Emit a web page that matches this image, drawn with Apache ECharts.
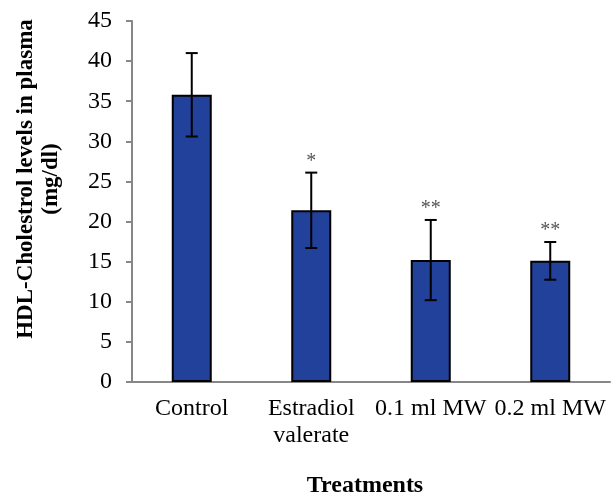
<!DOCTYPE html>
<html>
<head>
<meta charset="utf-8">
<script src="https://cdn.jsdelivr.net/npm/echarts@6/dist/echarts.min.js"></script>
<style>
html,body{margin:0;padding:0;background:#fff;}
#chart{width:616px;height:498px;}
</style>
</head>
<body>
<div id="chart"></div>
<script>
const categories = ['Control', 'Estradiol\nvalerate', '0.1 ml MW', '0.2 ml MW'];
const means = [35.8, 21.4, 15.2, 15.1];
const errors = [5.2, 4.7, 5.0, 2.35];
const significance = ['', '*', '**', '**'];
const yTicks = { min: 0, max: 45, interval: 5 };

const FONT = "'Liberation Serif', 'Times New Roman', serif";
const chart = echarts.init(document.getElementById('chart'), null, { renderer: 'canvas' });

const errData = means.map((m, i) => [i, m, errors[i]]);

chart.setOption({
  animation: false,
  backgroundColor: '#fff',
  grid: { left: 132, right: 6, top: 21, bottom: 116, containLabel: false },
  xAxis: {
    type: 'category',
    data: categories,
    axisLine: { lineStyle: { color: '#878787', width: 2 } },
    axisTick: { show: false },
    axisLabel: { color: '#000', fontFamily: FONT, fontSize: 24, lineHeight: 27, margin: 13, interval: 0 }
  },
  yAxis: {
    type: 'value',
    min: yTicks.min, max: yTicks.max, interval: yTicks.interval,
    axisLine: { show: true, lineStyle: { color: '#878787', width: 2 } },
    axisTick: { show: true, inside: false, length: 6, lineStyle: { color: '#878787', width: 2 } },
    splitLine: { show: false },
    axisLabel: { color: '#000', fontFamily: FONT, fontSize: 24, margin: 20 }
  },
  graphic: [
    {
      type: 'text',
      x: 39, y: 179,
      rotation: Math.PI / 2,
      style: {
        text: 'HDL-Cholestrol levels in plasma\n(mg/dl)',
        font: "bold 23px 'Liberation Serif', 'Times New Roman', serif",
        fill: '#000',
        align: 'center',
        verticalAlign: 'middle',
        lineHeight: 25
      }
    },
    {
      type: 'text',
      x: 365, y: 486,
      style: {
        text: 'Treatments',
        font: "bold 24px 'Liberation Serif', 'Times New Roman', serif",
        fill: '#000',
        align: 'center',
        verticalAlign: 'middle'
      }
    }
  ],
  series: [
    {
      type: 'bar',
      data: means,
      barWidth: 40,
      itemStyle: { color: '#22419A', borderColor: '#000', borderWidth: 2 }
    },
    {
      type: 'custom',
      data: errData,
      z: 10,
      renderItem: function (params, api) {
        const i = api.value(0);
        const m = api.value(1);
        const e = api.value(2);
        const sig = significance[params.dataIndex];
        const top = api.coord([i, m + e]);
        const bot = api.coord([i, m - e]);
        const half = 6;
        const ls = { stroke: '#000', lineWidth: 2 };
        const children = [
          { type: 'line', shape: { x1: top[0], y1: top[1], x2: bot[0], y2: bot[1] }, style: ls },
          { type: 'line', shape: { x1: top[0] - half, y1: top[1], x2: top[0] + half, y2: top[1] }, style: ls },
          { type: 'line', shape: { x1: bot[0] - half, y1: bot[1], x2: bot[0] + half, y2: bot[1] }, style: ls }
        ];
        if (sig) {
          children.push({
            type: 'text',
            x: top[0], y: top[1] - 1,
            style: {
              text: sig,
              font: "20px 'Liberation Serif', 'Times New Roman', serif",
              fill: '#555',
              align: 'center',
              verticalAlign: 'bottom'
            }
          });
        }
        return { type: 'group', children: children };
      }
    }
  ]
});
</script>
</body>
</html>
